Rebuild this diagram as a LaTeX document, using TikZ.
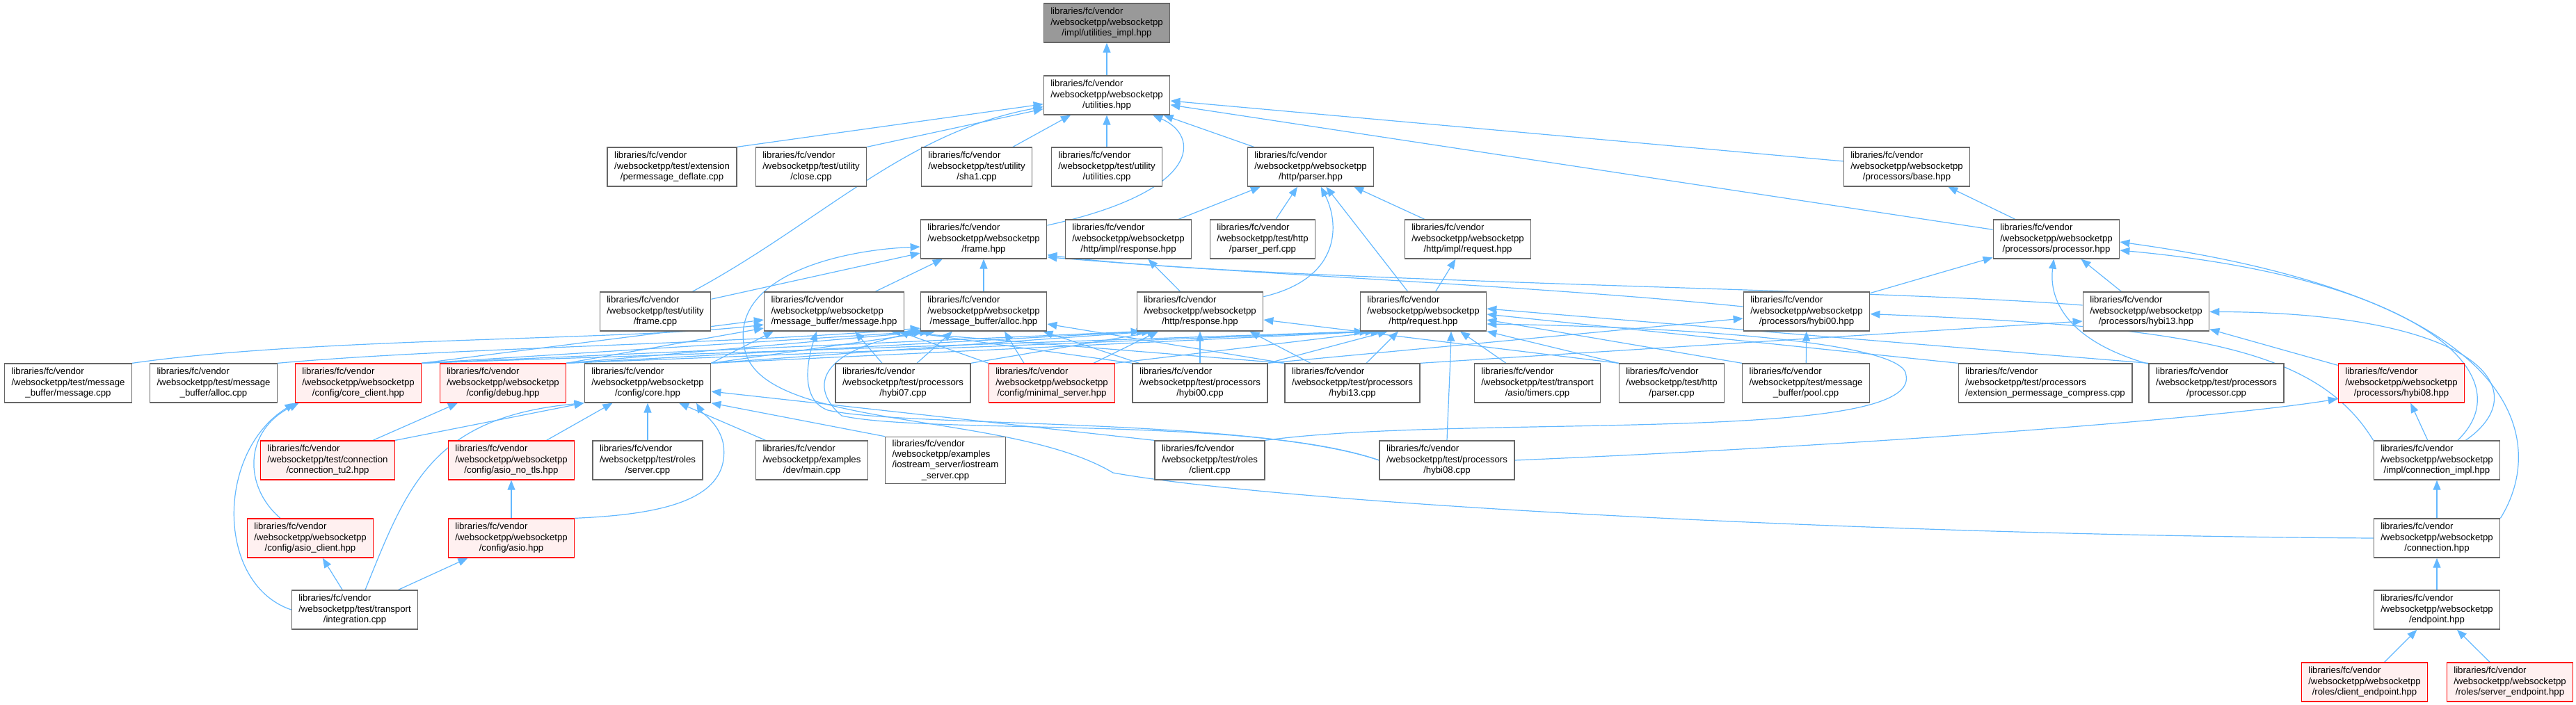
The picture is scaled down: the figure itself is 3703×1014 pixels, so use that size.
\documentclass[tikz,border=0pt]{standalone}
\usepackage{fontspec}
\setmainfont{Liberation Sans}
\usetikzlibrary{arrows.meta}
\pgfdeclarelayer{edges}
\pgfsetlayers{edges,main}
\newcommand{\fpath}[2]{\begin{tabular}{@{}l@{}}#1\\\multicolumn{1}{@{}c@{}}{#2}\end{tabular}}
\newcommand{\lfv}{libraries/fc/vendor}
\newcommand{\wsw}{/websocketpp/websocketpp}
\begin{document}
\begin{tikzpicture}[x=1pt,y=-1pt,
    docnode/.style={draw=nodegray,fill=white,line width=1.3pt,inner xsep=10pt,inner ysep=3pt,minimum height=56pt,font=\fontsize{13.2}{15.3}\selectfont},
    docred/.style={docnode,draw=red,fill=redfill},
    docroot/.style={docnode,fill=rootgray},
    incl/.style={draw=edgeblue,line width=1.2pt,-{Triangle[length=14pt,width=11pt]}}]
    \definecolor{nodegray}{RGB}{102,102,102}
    \definecolor{rootgray}{RGB}{153,153,153}
    \definecolor{redfill}{RGB}{255,240,240}
    \definecolor{edgeblue}{RGB}{99,184,255}
    \useasboundingbox (0,0) rectangle (3703,1014);

    \node[docroot] (implutil) at (1591,33) {\fpath{\lfv\\\wsw}{/impl/utilities\_impl.hpp}};
    \node[docnode] (util) at (1591,137) {\fpath{\lfv\\\wsw}{/utilities.hpp}};

    \node[docnode] (permdefl) at (966,240) {\fpath{\lfv\\/websocketpp/test/extension}{/permessage\_deflate.cpp}};
    \node[docnode] (closecpp) at (1166,240) {\fpath{\lfv\\/websocketpp/test/utility}{/close.cpp}};
    \node[docnode] (sha1cpp) at (1404,240) {\fpath{\lfv\\/websocketpp/test/utility}{/sha1.cpp}};
    \node[docnode] (utilcpp) at (1591,240) {\fpath{\lfv\\/websocketpp/test/utility}{/utilities.cpp}};
    \node[docnode] (parser) at (1884,240) {\fpath{\lfv\\\wsw}{/http/parser.hpp}};
    \node[docnode] (base) at (2741,240) {\fpath{\lfv\\\wsw}{/processors/base.hpp}};

    \node[docnode] (framehpp) at (1414,344) {\fpath{\lfv\\\wsw}{/frame.hpp}};
    \node[docnode] (implresp) at (1622,344) {\fpath{\lfv\\\wsw}{/http/impl/response.hpp}};
    \node[docnode] (parserperf) at (1815,344) {\fpath{\lfv\\/websocketpp/test/http}{/parser\_perf.cpp}};
    \node[docnode] (implreq) at (2110,344) {\fpath{\lfv\\\wsw}{/http/impl/request.hpp}};
    \node[docnode] (processor) at (2956,344) {\fpath{\lfv\\\wsw}{/processors/processor.hpp}};

    \node[docnode] (framecpp) at (942,448) {\fpath{\lfv\\/websocketpp/test/utility}{/frame.cpp}};
    \node[docnode] (msghpp) at (1199,448) {\fpath{\lfv\\\wsw}{/message\_buffer/message.hpp}};
    \node[docnode] (allochpp) at (1414,448) {\fpath{\lfv\\\wsw}{/message\_buffer/alloc.hpp}};
    \node[docnode] (response) at (1725,448) {\fpath{\lfv\\\wsw}{/http/response.hpp}};
    \node[docnode] (request) at (2046,448) {\fpath{\lfv\\\wsw}{/http/request.hpp}};
    \node[docnode] (hybizh) at (2597,448) {\fpath{\lfv\\\wsw}{/processors/hybi00.hpp}};
    \node[docnode] (hybithh) at (3085,448) {\fpath{\lfv\\\wsw}{/processors/hybi13.hpp}};

    \node[docnode] (msgcpp) at (98,551) {\fpath{\lfv\\/websocketpp/test/message}{\_buffer/message.cpp}};
    \node[docnode] (alloccpp) at (307,551) {\fpath{\lfv\\/websocketpp/test/message}{\_buffer/alloc.cpp}};
    \node[docred] (coreclient) at (515,551) {\fpath{\lfv\\\wsw}{/config/core\_client.hpp}};
    \node[docred] (debug) at (723,551) {\fpath{\lfv\\\wsw}{/config/debug.hpp}};
    \node[docnode] (core) at (931,551) {\fpath{\lfv\\\wsw}{/config/core.hpp}};
    \node[docnode] (hybi07cpp) at (1298,551) {\fpath{\lfv\\/websocketpp/test/processors}{/hybi07.cpp}};
    \node[docred] (minimal) at (1512,551) {\fpath{\lfv\\\wsw}{/config/minimal\_server.hpp}};
    \node[docnode] (hybizcpp) at (1725,551) {\fpath{\lfv\\/websocketpp/test/processors}{/hybi00.cpp}};
    \node[docnode] (hybithcpp) at (1944,551) {\fpath{\lfv\\/websocketpp/test/processors}{/hybi13.cpp}};
    \node[docnode] (timers) at (2210,551) {\fpath{\lfv\\/websocketpp/test/transport}{/asio/timers.cpp}};
    \node[docnode] (parsercpp) at (2403,551) {\fpath{\lfv\\/websocketpp/test/http}{/parser.cpp}};
    \node[docnode] (poolcpp) at (2596,551) {\fpath{\lfv\\/websocketpp/test/message}{\_buffer/pool.cpp}};
    \node[docnode] (extcomp) at (2940,551) {\fpath{\lfv\\/websocketpp/test/processors}{/extension\_permessage\_compress.cpp}};
    \node[docnode] (proccpp) at (3186,551) {\fpath{\lfv\\/websocketpp/test/processors}{/processor.cpp}};
    \node[docred] (hybieh) at (3452,551) {\fpath{\lfv\\\wsw}{/processors/hybi08.hpp}};

    \node[docred] (conntu2) at (471,662) {\fpath{\lfv\\/websocketpp/test/connection}{/connection\_tu2.hpp}};
    \node[docred] (asionotls) at (735,662) {\fpath{\lfv\\\wsw}{/config/asio\_no\_tls.hpp}};
    \node[docnode] (servercpp) at (931,662) {\fpath{\lfv\\/websocketpp/test/roles}{/server.cpp}};
    \node[docnode] (maincpp) at (1167,662) {\fpath{\lfv\\/websocketpp/examples}{/dev/main.cpp}};
    \node[docnode] (iostream) at (1359,662) {\fpath{\lfv\\/websocketpp/examples\\/iostream\_server/iostream}{\_server.cpp}};
    \node[docnode] (clientcpp) at (1739,662) {\fpath{\lfv\\/websocketpp/test/roles}{/client.cpp}};
    \node[docnode] (hybiecpp) at (2080,662) {\fpath{\lfv\\/websocketpp/test/processors}{/hybi08.cpp}};
    \node[docnode] (connimpl) at (3503,662) {\fpath{\lfv\\\wsw}{/impl/connection\_impl.hpp}};

    \node[docred] (asioclient) at (446,774) {\fpath{\lfv\\\wsw}{/config/asio\_client.hpp}};
    \node[docred] (asio) at (735,774) {\fpath{\lfv\\\wsw}{/config/asio.hpp}};
    \node[docnode] (connection) at (3503,774) {\fpath{\lfv\\\wsw}{/connection.hpp}};

    \node[docnode] (integration) at (510,877) {\fpath{\lfv\\/websocketpp/test/transport}{/integration.cpp}};
    \node[docnode] (endpoint) at (3503,877) {\fpath{\lfv\\\wsw}{/endpoint.hpp}};

    \node[docred] (clientep) at (3399,981) {\fpath{\lfv\\\wsw}{/roles/client\_endpoint.hpp}};
    \node[docred] (serverep) at (3608,981) {\fpath{\lfv\\\wsw}{/roles/server\_endpoint.hpp}};

    \begin{pgfonlayer}{edges}
    \draw[incl] (util) -- (implutil);
    \draw[incl] (permdefl.north east) -- (util);
    \draw[incl] (closecpp.north east) -- (util);
    \draw[incl] (framecpp) .. controls (1180,320) and (1300,190) .. (util);
    \draw[incl] (sha1cpp) -- (util);
    \draw[incl] (utilcpp) -- (util);
    \draw[incl] (framehpp) .. controls (1730,275) and (1725,195) .. (util);
    \draw[incl] (parser) -- (util);
    \draw[incl] (base) -- (util);
    \draw[incl] (processor) -- (util);

    \draw[incl] (implresp) -- (parser);
    \draw[incl] (parserperf) -- (parser);
    \draw[incl] (implreq) -- (parser);
    \draw[incl] (response) .. controls (1930,400) and (1925,320) .. (parser);
    \draw[incl] (request) -- (parser);
    \draw[incl] (response) -- (implresp);
    \draw[incl] (request) -- (implreq);
    \draw[incl] (processor) -- (base);

    \draw[incl] (framecpp) -- (framehpp);
    \draw[incl] (msghpp) -- (framehpp);
    \draw[incl] (allochpp) -- (framehpp);
    \draw[incl] ([yshift=7pt]hybizh.west) .. controls (2200,410) and (1800,395) .. ([yshift=3pt]framehpp.south east);
    \draw[incl] ([yshift=9pt]hybithh.west) .. controls (2700,415) and (1800,405) .. ([yshift=6pt]framehpp.south east);
    \draw[incl] (connection.west) .. controls (2700,770) and (1850,725) .. (1600,680) .. controls (1450,590) and (1090,620) .. (1070,500) .. controls (1050,400) and (1200,360) .. ([yshift=-11pt]framehpp.west);

    \draw[incl] (hybizh) -- (processor);
    \draw[incl] (hybithh) -- (processor);
    \draw[incl] (proccpp) .. controls (2970,490) and (2945,430) .. (processor);
    \draw[incl] (connimpl) .. controls (3630,540) and (3480,400) .. ([yshift=-16pt]processor.east);
    \draw[incl] (connection.north east) .. controls (3660,640) and (3640,430) .. ([yshift=-4pt]processor.east);

    \draw[incl] (hybieh) -- (hybithh);
    \draw[incl] (connimpl) .. controls (3650,560) and (3560,450) .. (hybithh);
    \draw[incl] (connimpl) -- (hybieh);
    \draw[incl] (connimpl.north west) .. controls (3330,500) and (3150,470) .. (hybizh);
    \draw[incl] (hybiecpp.east) .. controls (2700,640) and (3200,600) .. ([yshift=6pt]hybieh.south west);
    \draw[incl] (poolcpp) -- (hybizh);
    \draw[incl] (hybizcpp.north east) -- ([yshift=-10pt]hybizh.west);
    \draw[incl] (hybithcpp.north east) -- ([yshift=-14pt]hybithh.west);

    \draw[incl] (msgcpp.north east) .. controls (450,485) and (900,490) .. ([yshift=-19pt]msghpp.west);
    \draw[incl] (alloccpp.north east) .. controls (650,500) and (1050,495) .. ([yshift=-24pt]allochpp.west);
    \draw[incl] (coreclient.north east) -- ([yshift=-12pt]msghpp.west);
    \draw[incl] (coreclient.north east) -- ([xshift=6pt]allochpp.south west);
    \draw[incl] (coreclient.north east) -- ([xshift=6pt]response.south west);
    \draw[incl] (coreclient.north east) -- ([xshift=6pt]request.south west);
    \draw[incl] (debug.north east) -- ([yshift=-24pt]msghpp.west);
    \draw[incl] (debug.north east) -- ([xshift=14pt]allochpp.south west);
    \draw[incl] (debug.north east) -- ([xshift=14pt]response.south west);
    \draw[incl] (debug.north east) -- ([xshift=14pt]request.south west);
    \draw[incl] (core.north east) -- ([xshift=14pt]msghpp.south west);
    \draw[incl] (core.north east) -- ([xshift=22pt]allochpp.south west);
    \draw[incl] (core.north east) -- ([xshift=22pt]response.south west);
    \draw[incl] (core.north east) -- ([xshift=22pt]request.south west);
    \draw[incl] ([xshift=-30pt]hybi07cpp.north) -- ([xshift=30pt]msghpp.south);
    \draw[incl] ([xshift=20pt]hybi07cpp.north) -- ([xshift=-45pt]allochpp.south);
    \draw[incl] (hybi07cpp.north east) -- ([xshift=30pt]response.south west);
    \draw[incl] (minimal.north west) -- ([xshift=-8pt]msghpp.south east);
    \draw[incl] ([xshift=-40pt]minimal.north) -- ([xshift=30pt]allochpp.south);
    \draw[incl] ([xshift=60pt]minimal.north) -- ([xshift=-60pt]response.south);
    \draw[incl] (minimal.north east) -- ([xshift=30pt]request.south west);
    \draw[incl] (hybizcpp) -- (response);
    \draw[incl] (hybizcpp.north west) -- (msghpp.south east);
    \draw[incl] ([xshift=10pt]hybizcpp.north west) -- ([xshift=-6pt]allochpp.south east);
    \draw[incl] (hybizcpp.north east) -- ([xshift=40pt]request.south west);
    \draw[incl] ([xshift=20pt]hybithcpp.north) -- ([xshift=-36pt]request.south);
    \draw[incl] ([xshift=-60pt]hybithcpp.north) -- ([xshift=-20pt]response.south east);
    \draw[incl] (hybithcpp.north west) -- ([yshift=-18pt]allochpp.east);
    \draw[incl] (hybithcpp.north west) -- ([xshift=-20pt]msghpp.south east);
    \draw[incl] ([xshift=-45pt]timers.north) -- ([xshift=53pt]request.south);
    \draw[incl] (parsercpp.north west) -- (request.south east);
    \draw[incl] (parsercpp.north west) -- ([yshift=-12pt]response.east);
    \draw[incl] (poolcpp.north west) -- ([yshift=-12pt]request.east);
    \draw[incl] (extcomp.north west) -- ([yshift=-4pt]request.east);
    \draw[incl] (proccpp.north west) -- ([yshift=4pt]request.east);
    \draw[incl] (hybiecpp.north) .. controls (2082,580) and (2085,520) .. ([xshift=40pt]request.south);
    \draw[incl] (hybiecpp.west) .. controls (1800,600) and (1300,615) .. (1190,590) .. controls (1150,575) and (1160,520) .. ([xshift=-25pt]msghpp.south);
    \draw[incl] (hybiecpp.west) .. controls (1800,598) and (1330,625) .. (1210,598) .. controls (1165,560) and (1170,505) .. ([xshift=4pt]allochpp.south west);
    \draw[incl] (clientcpp.north west) -- ([yshift=-12pt]core.east);
    \draw[incl] (clientcpp.north east) .. controls (2100,595) and (2760,640) .. (2740,540) .. controls (2740,490) and (2400,470) .. ([yshift=-18pt]request.east);

    \draw[incl] (conntu2) -- (debug);
    \draw[incl] (conntu2.north east) -- (core.south west);
    \draw[incl] (asionotls) -- (core);
    \draw[incl] (servercpp) -- (core);
    \draw[incl] (maincpp) -- ([xshift=45pt]core.south);
    \draw[incl] (iostream.north west) -- (core.south east);
    \draw[incl] ([xshift=15pt]integration.north) .. controls (585,700) and (620,600) .. (core.south west);
    \draw[incl] (integration.west) .. controls (310,840) and (310,650) .. (coreclient.south west);
    \draw[incl] (integration) -- (asioclient);
    \draw[incl] (integration) -- (asio);
    \draw[incl] ([xshift=-43pt]asioclient.north) .. controls (350,700) and (350,620) .. ([xshift=6pt]coreclient.south west);
    \draw[incl] (asio) -- (asionotls);
    \draw[incl] (asio.north east) .. controls (950,740) and (1050,720) .. (1040,640) .. controls (1035,610) and (1010,595) .. ([xshift=70pt]core.south);

    \draw[incl] (connection) -- (connimpl);
    \draw[incl] (endpoint) -- (connection);
    \draw[incl] (clientep) -- (endpoint);
    \draw[incl] (serverep) -- (endpoint);
    \end{pgfonlayer}
\end{tikzpicture}
\end{document}
